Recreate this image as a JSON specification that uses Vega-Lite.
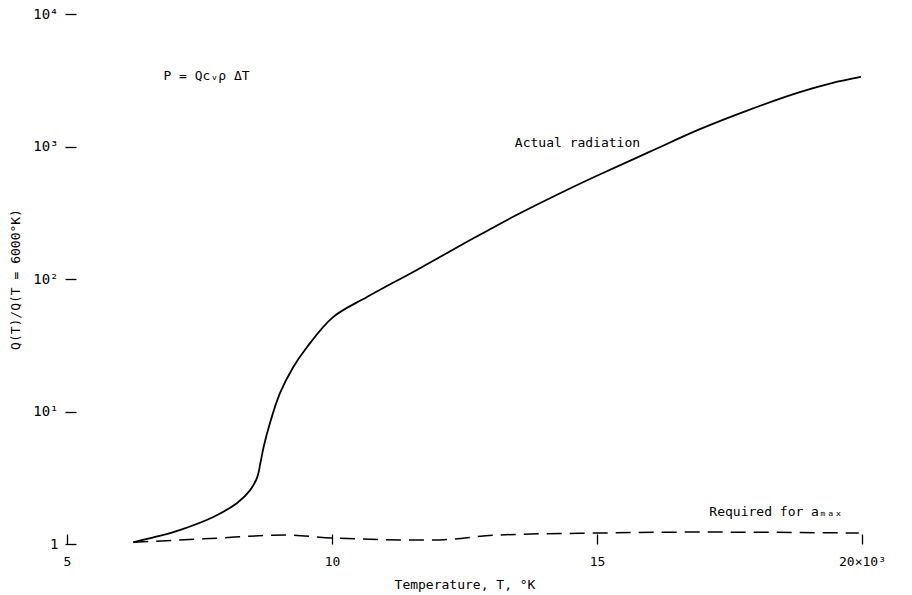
{
  "$schema": "https://vega.github.io/schema/vega-lite/v6.json",
  "width": 795,
  "height": 530,
  "autosize": "none",
  "padding": {"left": 67, "top": 14, "right": 50, "bottom": 51},
  "background": "white",
  "config": {
    "view": {"stroke": null},
    "font": "DejaVu Sans Mono",
    "axis": {"labelFont": "DejaVu Sans Mono", "titleFont": "DejaVu Sans Mono", "labelColor": "black", "titleColor": "black", "tickColor": "black", "titleFontWeight": "normal"}
  },
  "datasets": {
    "actual": [
      {"T": 6.25, "Q": 1.03},
      {"T": 6.7, "Q": 1.14},
      {"T": 7.14, "Q": 1.28},
      {"T": 7.76, "Q": 1.6},
      {"T": 8.21, "Q": 2.04},
      {"T": 8.46, "Q": 2.56},
      {"T": 8.59, "Q": 3.2},
      {"T": 8.65, "Q": 4.1},
      {"T": 8.71, "Q": 5.4},
      {"T": 8.83, "Q": 8.2},
      {"T": 9.02, "Q": 13.8},
      {"T": 9.27, "Q": 21.7},
      {"T": 9.53, "Q": 30.7},
      {"T": 10.02, "Q": 51.6},
      {"T": 10.66, "Q": 73.1},
      {"T": 11.6, "Q": 117},
      {"T": 12.54, "Q": 190},
      {"T": 13.48, "Q": 304},
      {"T": 14.43, "Q": 470},
      {"T": 15.05, "Q": 615},
      {"T": 15.99, "Q": 910},
      {"T": 16.93, "Q": 1345},
      {"T": 17.87, "Q": 1890},
      {"T": 18.81, "Q": 2560},
      {"T": 19.43, "Q": 3010},
      {"T": 19.98, "Q": 3350}
    ],
    "required": [
      {"T": 6.25, "Q": 1.03},
      {"T": 7.7, "Q": 1.1},
      {"T": 9.15, "Q": 1.17},
      {"T": 10.0, "Q": 1.11},
      {"T": 11.9, "Q": 1.07},
      {"T": 13.15, "Q": 1.17},
      {"T": 15.0, "Q": 1.21},
      {"T": 16.9, "Q": 1.23},
      {"T": 19.94, "Q": 1.21}
    ],
    "notes": [
      {"T": 6.82, "Q": 3400, "text": "P = Qcᵥρ ΔT"},
      {"T": 13.45, "Q": 1062, "text": "Actual radiation"},
      {"T": 17.12, "Q": 1.744, "text": "Required for aₘₐₓ"}
    ]
  },
  "layer": [
    {
      "data": {"name": "actual"},
      "mark": {"type": "line", "color": "black", "strokeWidth": 1.8, "interpolate": "catmull-rom"},
      "encoding": {
        "x": {"field": "T", "type": "quantitative",
          "scale": {"domain": [5, 20], "nice": false, "zero": false},
          "axis": {"values": [5, 10, 15, 20], "labelExpr": "datum.value == 20 ? '20×10³' : datum.label", "title": "Temperature, T, °K", "domain": false, "grid": false, "tickSize": -10, "tickWidth": 1.3, "labelPadding": 21, "labelFontSize": 13, "titleFontSize": 13, "titlePadding": 10, "labelFlush": false}},
        "y": {"field": "Q", "type": "quantitative",
          "scale": {"type": "log", "domain": [1, 10000], "nice": false},
          "axis": {"values": [1, 10, 100, 1000, 10000], "labelExpr": "datum.value == 1 ? '1' : datum.value == 10 ? '10¹' : datum.value == 100 ? '10²' : datum.value == 1000 ? '10³' : '10⁴'", "title": "Q(T)/Q(T = 6000°K)", "domain": false, "grid": false, "offset": -9, "tickSize": 11, "tickWidth": 1.3, "labelPadding": 7, "labelFontSize": 14, "titleFontSize": 13, "titlePadding": 10, "labelFlush": false}}
      }
    },
    {
      "data": {"name": "required"},
      "mark": {"type": "line", "color": "black", "strokeWidth": 1.5, "strokeDash": [15, 8], "interpolate": "monotone"},
      "encoding": {
        "x": {"field": "T", "type": "quantitative"},
        "y": {"field": "Q", "type": "quantitative"}
      }
    },
    {
      "data": {"name": "notes"},
      "mark": {"type": "text", "align": "left", "baseline": "middle", "fontSize": 13, "color": "black"},
      "encoding": {
        "x": {"field": "T", "type": "quantitative"},
        "y": {"field": "Q", "type": "quantitative"},
        "text": {"field": "text"}
      }
    }
  ]
}
